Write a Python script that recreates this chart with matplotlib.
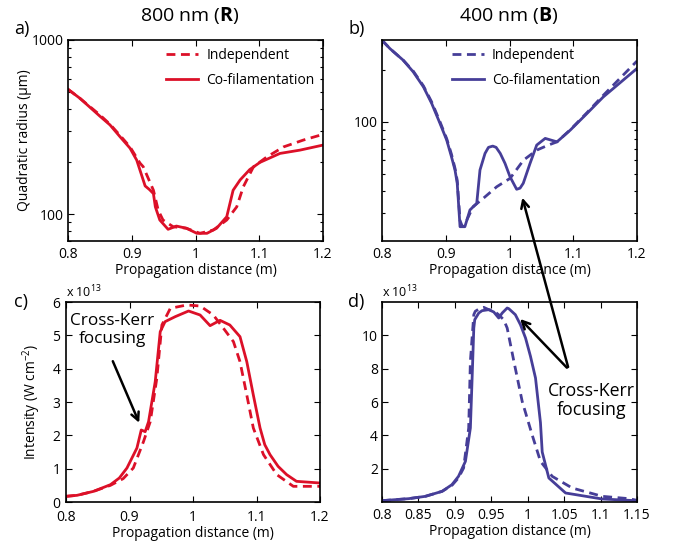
import matplotlib
matplotlib.use("Agg")
import matplotlib.pyplot as plt
from matplotlib.ticker import LogLocator, NullFormatter, FixedLocator, FuncFormatter

plt.rcParams['font.family'] = ['Open Sans', 'DejaVu Sans']
plt.rcParams['mathtext.fontset'] = 'custom'
plt.rcParams['mathtext.rm'] = 'Open Sans'
plt.rcParams['mathtext.bf'] = 'Open Sans:bold'
plt.rcParams['mathtext.it'] = 'Open Sans:italic'

RED = '#DC1028'
BLUE = '#463E98'

# ---- Panel a: 800 nm quadratic radius (um) ----
a_ind_x = [0.80, 0.8188, 0.850, 0.8659, 0.882, 0.8973, 0.913, 0.918, 0.934, 0.9416, 0.949, 0.965, 0.985, 1.007, 1.028, 1.049, 1.0647, 1.075, 1.091, 1.112, 1.138, 1.169, 1.20]
a_ind_y = [521, 462, 371, 328, 282, 243, 196, 187, 137, 105, 92.4, 84.5, 83, 77.5, 81, 92.4, 110, 143.5, 187, 213, 243, 266, 287]
a_co_x = [0.80, 0.8188, 0.850, 0.8659, 0.8816, 0.8973, 0.9078, 0.921, 0.928, 0.934, 0.937, 0.944, 0.957, 0.970, 0.986, 1.002, 1.018, 1.033, 1.049, 1.059, 1.070, 1.085, 1.101, 1.1325, 1.164, 1.20]
a_co_y = [521, 462, 365, 325, 278, 239, 204, 145, 138, 131, 110, 92.4, 81.7, 85.3, 82.8, 77.5, 77.5, 82.8, 96.5, 137, 157, 180, 198, 223, 233, 249]

# ---- Panel b: 400 nm quadratic radius (um) ----
b_ind_x = [0.80, 0.8125, 0.8335, 0.849, 0.865, 0.878, 0.891, 0.9015, 0.909, 0.9145, 0.918, 0.9224, 0.926, 0.933, 0.943, 0.959, 0.980, 1.001, 1.022, 1.043, 1.061, 1.0745, 1.0953, 1.1216, 1.147, 1.20]
b_ind_y = [295, 264, 226, 196, 161, 130, 100, 80, 65, 54, 46, 27, 25, 27.2, 32.5, 36.3, 42.3, 47.3, 60.2, 68.8, 73.5, 76.7, 90, 113, 142, 224]
b_co_x = [0.80, 0.8125, 0.8335, 0.849, 0.865, 0.878, 0.891, 0.9015, 0.909, 0.9145, 0.918, 0.9224, 0.930, 0.938, 0.9486, 0.9537, 0.9616, 0.967, 0.9737, 0.979, 0.9855, 0.993, 1.0008, 1.0112, 1.0165, 1.0216, 1.0322, 1.0427, 1.056, 1.0745, 1.0953, 1.1216, 1.147, 1.20]
b_co_y = [295, 264, 226, 194, 159, 127.5, 97.9, 78.5, 62.9, 52.8, 44.3, 24.9, 24.9, 31.1, 33.9, 52.8, 65.8, 71.3, 72.5, 71.3, 65.8, 57.6, 48.3, 40.9, 41.5, 44.3, 57.6, 73.5, 80.3, 76.7, 89.6, 111.8, 139, 203]

# ---- Panel c: 800 nm intensity (x 1e13 W cm^-2) ----
c_ind_x = [0.80, 0.8173, 0.8434, 0.87, 0.89, 0.906, 0.922, 0.9327, 0.943, 0.951, 0.9643, 0.99, 1.0112, 1.032, 1.048, 1.0637, 1.074, 1.0847, 1.095, 1.111, 1.132, 1.158, 1.20]
c_ind_y = [0.17, 0.20, 0.32, 0.50, 0.70, 1.02, 1.81, 2.41, 3.71, 5.31, 5.81, 5.91, 5.88, 5.61, 5.21, 4.81, 4.21, 3.21, 2.22, 1.42, 0.82, 0.47, 0.47]
c_co_x = [0.80, 0.8173, 0.8434, 0.87, 0.884, 0.896, 0.9117, 0.9185, 0.9247, 0.930, 0.9405, 0.9484, 0.956, 0.972, 0.993, 1.0112, 1.0269, 1.0426, 1.058, 1.074, 1.0847, 1.095, 1.1056, 1.113, 1.1213, 1.134, 1.1475, 1.163, 1.20]
c_co_y = [0.17, 0.20, 0.32, 0.52, 0.72, 1.02, 1.62, 2.16, 2.11, 2.41, 3.61, 5.11, 5.41, 5.56, 5.73, 5.61, 5.29, 5.45, 5.31, 4.96, 4.21, 3.21, 2.22, 1.72, 1.42, 1.07, 0.82, 0.62, 0.57]

# ---- Panel d: 400 nm intensity (x 1e13 W cm^-2) ----
d_ind_x = [0.80, 0.8366, 0.8595, 0.8825, 0.896, 0.905, 0.912, 0.919, 0.9213, 0.926, 0.928, 0.935, 0.9396, 0.9465, 0.953, 0.960, 0.967, 0.9718, 0.981, 0.9924, 1.006, 1.0175, 1.0336, 1.061, 1.1023, 1.139, 1.15]
d_ind_y = [0.08, 0.2, 0.34, 0.64, 1.0, 1.45, 2.04, 4.44, 8.44, 11.24, 11.44, 11.64, 11.68, 11.54, 11.48, 11.24, 10.94, 10.44, 8.44, 6.04, 4.04, 2.44, 1.54, 0.84, 0.34, 0.20, 0.10]
d_co_x = [0.80, 0.8366, 0.8595, 0.8825, 0.896, 0.905, 0.9145, 0.9213, 0.9237, 0.926, 0.9273, 0.9328, 0.9374, 0.9465, 0.9534, 0.9602, 0.965, 0.9718, 0.974, 0.983, 0.990, 0.997, 1.0038, 1.0107, 1.0175, 1.0199, 1.029, 1.052, 1.1023, 1.148]
d_co_y = [0.08, 0.2, 0.34, 0.64, 1.04, 1.54, 2.44, 4.44, 7.44, 10.44, 10.94, 11.34, 11.48, 11.54, 11.4, 11.04, 11.34, 11.64, 11.6, 11.24, 10.64, 9.84, 8.74, 7.44, 4.76, 3.0, 1.44, 0.54, 0.18, 0.08]

xt_top = [0.8, 0.9, 1.0, 1.1, 1.2]
xt_c = [0.8, 0.9, 1.0, 1.1, 1.2]
xt_d = [0.8, 0.85, 0.9, 0.95, 1.0, 1.05, 1.1, 1.15]
yt_c = [0, 1, 2, 3, 4, 5, 6]
yt_d = [2, 4, 6, 8, 10]

LW = 2.0
DASH = (3.2, 2.0)
FS = 10

def fmt(v, pos):
    s = ('%.2f' % v).rstrip('0').rstrip('.')
    return s

fig = plt.figure(figsize=(6.77, 5.47), dpi=100)
W, H = 677.0, 547.0

def add_ax(l, r, t, b):
    return fig.add_axes([l / W, 1 - b / H, (r - l) / W, (b - t) / H])

ax_a = add_ax(68, 323, 40, 241)
ax_b = add_ax(382, 637, 40, 241)
ax_c = add_ax(66, 320, 302, 502)
ax_d = add_ax(382, 637, 302, 502)

for ax in (ax_a, ax_b, ax_c, ax_d):
    ax.tick_params(direction='in', top=True, right=True, which='both', labelsize=FS,
                   length=4, width=0.8, pad=3)
    ax.tick_params(axis='x', pad=4)
    ax.tick_params(which='minor', length=2.2)
    for s in ax.spines.values():
        s.set_linewidth(1.2)
    ax.set_xlabel('Propagation distance (m)', fontsize=FS, labelpad=1)
    ax.xaxis.set_major_formatter(FuncFormatter(fmt))
ax_c.tick_params(axis='x', pad=5.5)
ax_c.tick_params(axis='y', pad=4)

# a
ax_a.plot(a_ind_x, a_ind_y, color=RED, lw=LW, dashes=DASH, label='Independent')
ax_a.plot(a_co_x, a_co_y, color=RED, lw=LW, label='Co-filamentation')
ax_a.set_yscale('log')
ax_a.set_ylim(70, 1000)
ax_a.set_xlim(0.8, 1.2)
ax_a.set_xticks(xt_top)
ax_a.yaxis.set_major_locator(FixedLocator([100, 1000]))
ax_a.yaxis.set_major_formatter(FuncFormatter(lambda v, p: '%d' % v))
ax_a.yaxis.set_minor_locator(LogLocator(subs=range(2, 10)))
ax_a.yaxis.set_minor_formatter(NullFormatter())
ax_a.set_ylabel('Quadratic radius (\u03bcm)', fontsize=FS, labelpad=0)
ax_a.legend(loc='upper right', frameon=False, fontsize=FS, handlelength=2.3,
            borderaxespad=0.2, labelspacing=0.7, handletextpad=0.6)

# b
ax_b.plot(b_ind_x, b_ind_y, color=BLUE, lw=LW, dashes=DASH, label='Independent')
ax_b.plot(b_co_x, b_co_y, color=BLUE, lw=LW, label='Co-filamentation')
ax_b.set_yscale('log')
ax_b.set_ylim(20.6, 296)
ax_b.set_xlim(0.8, 1.2)
ax_b.set_xticks(xt_top)
ax_b.yaxis.set_major_locator(FixedLocator([100]))
ax_b.yaxis.set_major_formatter(FuncFormatter(lambda v, p: '%d' % v))
ax_b.yaxis.set_minor_locator(LogLocator(subs=range(2, 10)))
ax_b.yaxis.set_minor_formatter(NullFormatter())
ax_b.legend(loc='upper center', frameon=False, fontsize=FS, handlelength=2.3,
            borderaxespad=0.2, labelspacing=0.7, handletextpad=0.6,
            bbox_to_anchor=(0.565, 1.0))

# c
ax_c.plot(c_ind_x, c_ind_y, color=RED, lw=LW, dashes=DASH)
ax_c.plot(c_co_x, c_co_y, color=RED, lw=LW)
ax_c.set_xlim(0.8, 1.2)
ax_c.set_ylim(0, 6)
ax_c.set_xticks(xt_c)
ax_c.set_yticks(yt_c)
ax_c.set_ylabel('Intensity (W cm$^{-2}$)', fontsize=FS, labelpad=7)
ax_c.text(0.0, 1.01, 'x 10$^{13}$', transform=ax_c.transAxes, fontsize=9, ha='left', va='bottom')
ax_c.text(0.873, 5.16, 'Cross-Kerr\nfocusing', fontsize=12.3, ha='center', va='center', linespacing=1.1)
ax_c.annotate('', xy=(0.917, 2.3), xytext=(0.872, 4.3),
              arrowprops=dict(arrowstyle='->', color='black', lw=1.8, mutation_scale=14))

# d
ax_d.plot(d_ind_x, d_ind_y, color=BLUE, lw=LW, dashes=DASH)
ax_d.plot(d_co_x, d_co_y, color=BLUE, lw=LW)
ax_d.set_xlim(0.8, 1.15)
ax_d.set_ylim(0, 12)
ax_d.set_xticks(xt_d)
ax_d.set_yticks(yt_d)
ax_d.text(0.0, 1.01, 'x 10$^{13}$', transform=ax_d.transAxes, fontsize=9, ha='left', va='bottom')
ax_d.text(1.088, 6.1, 'Cross-Kerr\nfocusing', fontsize=12.8, ha='center', va='center', linespacing=1.1)
ax_d.annotate('', xy=(0.987, 11.1), xytext=(1.0564, 7.94),
              arrowprops=dict(arrowstyle='->', color='black', lw=1.8, mutation_scale=14))
ax_d.annotate('', xy=(1.019, 37.9), xycoords=ax_b.transData,
              xytext=(1.0564, 7.94), textcoords=ax_d.transData,
              arrowprops=dict(arrowstyle='->', color='black', lw=1.8, mutation_scale=14),
              annotation_clip=False)

# titles and panel letters
fig.text(190 / W, 1 - 16 / H, r'800 nm ($\mathbf{R}$)', fontsize=14, ha='center', va='center')
fig.text(509 / W, 1 - 16 / H, r'400 nm ($\mathbf{B}$)', fontsize=14, ha='center', va='center')
fig.text(14 / W, 1 - 29 / H, 'a)', fontsize=13, ha='left', va='center')
fig.text(348 / W, 1 - 29 / H, 'b)', fontsize=13, ha='left', va='center')
fig.text(14 / W, 1 - 302 / H, 'c)', fontsize=13, ha='left', va='center')
fig.text(348 / W, 1 - 302 / H, 'd)', fontsize=13, ha='left', va='center')

fig.savefig('out.png', dpi=100)
